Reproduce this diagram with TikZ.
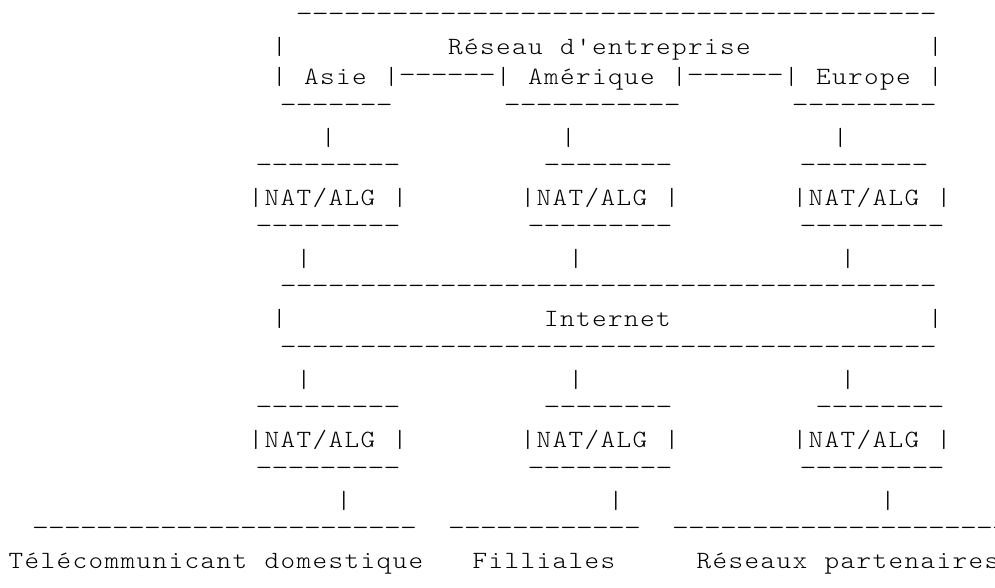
\documentclass[tikz,border=0pt]{standalone}
\usepackage{fontspec}
\usepackage{graphicx}
\setmonofont{lmmonolt10-regular.otf}
\makeatletter
\newcommand\asciicell[1]{\hbox to 16pt{\hss\scalebox{1.12}[1]{#1}\hss}}
\newcommand\asciidash{\hbox to 16pt{\hss\raisebox{2.5pt}{\scalebox{1.3}[1]{-}}\hss}}
\newcommand\asciiblank{\hbox to 16pt{}}
\def\as@end{\as@end@}
\def\AsW#1{\as@w#1\as@end}
\def\as@w#1{\ifx#1\as@end\else\ifx#1~\asciiblank\else\asciicell{#1}\fi\expandafter\as@w\fi}
\makeatother
\ExplSyntaxOn
\cs_new:Npn \AsD #1 { \prg_replicate:nn {#1} { \asciidash } }
\cs_new:Npn \AsS #1 { \prg_replicate:nn {#1} { \asciiblank } }
\ExplSyntaxOff
\tikzset{asciirow/.style={anchor=base west, inner sep=0pt, outer sep=0pt,
  font=\fontsize{24.8}{24.8}\selectfont\ttfamily, text=black}}
\begin{document}
\begin{tikzpicture}[x=1pt,y=-1pt]
\useasboundingbox (0,0) rectangle (995,587);
\node[asciirow] (l0)  at (296.4,24)    {\AsD{40}};
\node[asciirow] (l1)  at (271.3,54.25) {\AsW{|}\AsS{10}\AsW{Réseau~d'entreprise}\AsS{11}\AsW{|}};
\node[asciirow] (l2)  at (271.3,84.5)  {\AsW{|~Asie~|}\AsD{6}\AsW{|~Amérique~|}\AsD{6}\AsW{|~Europe~|}};
\node[asciirow] (l3)  at (280.4,114.75){\AsD{7}\AsS{7}\AsD{11}\AsS{7}\AsD{9}};
\node[asciirow] (l4)  at (320.3,145)   {\AsW{|}\AsS{14}\AsW{|}\AsS{16}\AsW{|}};
\node[asciirow] (l5)  at (256,175.25)  {\AsD{9}\AsS{9}\AsD{8}\AsS{8}\AsD{8}};
\node[asciirow] (l6)  at (248,205.5)   {\AsW{|NAT/ALG~|}\AsS{7}\AsW{|NAT/ALG~|}\AsS{7}\AsW{|NAT/ALG~|}};
\node[asciirow] (l7)  at (256,235.75)  {\AsD{9}\AsS{8}\AsD{9}\AsS{8}\AsD{9}};
\node[asciirow] (l8)  at (296,266)     {\AsW{|}\AsS{16}\AsW{|}\AsS{16}\AsW{|}};
\node[asciirow] (l9)  at (280.4,296.25){\AsD{41}};
\node[asciirow] (l10) at (271.3,326.5) {\AsW{|}\AsS{16}\AsW{Internet}\AsS{16}\AsW{|}};
\node[asciirow] (l11) at (280.4,356.75){\AsD{41}};
\node[asciirow] (l12) at (296,387)     {\AsW{|}\AsS{16}\AsW{|}\AsS{16}\AsW{|}};
\node[asciirow] (l13) at (256,417.25)  {\AsD{9}\AsS{9}\AsD{8}\AsS{9}\AsD{8}};
\node[asciirow] (l14) at (248,447.5)   {\AsW{|NAT/ALG~|}\AsS{7}\AsW{|NAT/ALG~|}\AsS{7}\AsW{|NAT/ALG~|}};
\node[asciirow] (l15) at (256,477.75)  {\AsD{9}\AsS{8}\AsD{9}\AsS{8}\AsD{9}};
\node[asciirow] (l16) at (336,508)     {\AsW{|}\AsS{16}\AsW{|}\AsS{16}\AsW{|}};
\node[asciirow] (l17) at (32.7,538.25) {\AsD{24}\AsS{2}\AsD{12}\AsS{2}\AsD{21}};
\node[asciirow] (l18) at (8,568.5)     {\AsW{Télécommunicant~domestique~~~Filliales~~~~~Réseaux~partenaires}};
\end{tikzpicture}
\end{document}
